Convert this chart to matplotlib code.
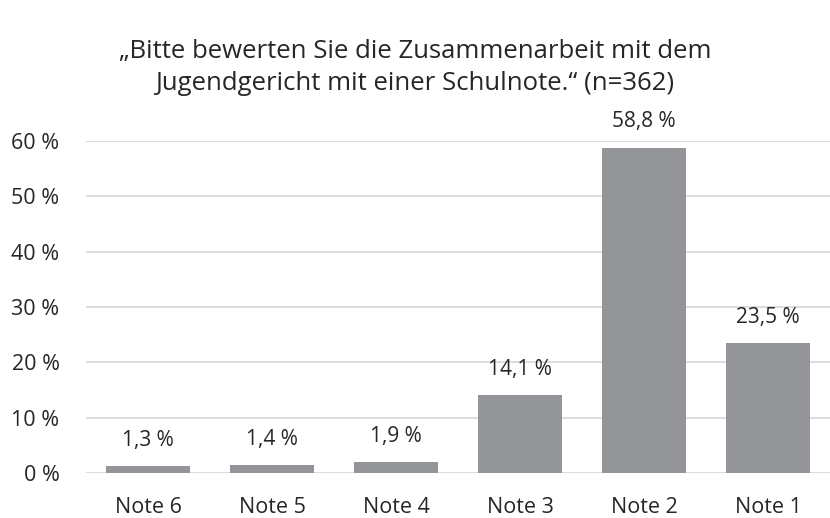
import matplotlib.pyplot as plt
from matplotlib.ticker import FuncFormatter

plt.rcParams['font.family'] = ['Open Sans', 'DejaVu Sans']

categories = ["Note 6", "Note 5", "Note 4", "Note 3", "Note 2", "Note 1"]
values = [1.3, 1.4, 1.9, 14.1, 58.8, 23.5]
yticks = [0, 10, 20, 30, 40, 50, 60]

text_color = '#262626'
bar_color = '#939598'

fig = plt.figure(figsize=(8.3, 5.18), dpi=100)
ax = fig.add_axes([0.1036, 0.0869, 0.8964, 0.6409])

x = range(len(categories))
bars = ax.bar(x, values, width=0.67, color=bar_color, zorder=2)

for xi, v in zip(x, values):
    ax.annotate("{:.1f} %".format(v).replace('.', ','), (xi, v),
                xytext=(0, 11), textcoords='offset points',
                ha='center', va='bottom', fontsize=15, color=text_color)

ax.set_ylim(0, 60)
ax.set_xlim(-0.5, len(categories) - 0.5)
ax.set_yticks(yticks)
ax.yaxis.set_major_formatter(FuncFormatter(lambda v, p: "{:d} %".format(int(v))))
ax.set_xticks(list(x))
ax.set_xticklabels(categories)
ax.grid(axis='y', color='#d9d9d9', linewidth=1.3, zorder=0)
ax.tick_params(axis='both', length=0, labelsize=15.5, colors=text_color)
ax.tick_params(axis='y', pad=19)
ax.tick_params(axis='x', pad=17)
for s in ax.spines.values():
    s.set_visible(False)

fig.text(0.5, 0.87, "„Bitte bewerten Sie die Zusammenarbeit mit dem\nJugendgericht mit einer Schulnote.“ (n=362)",
         ha='center', va='center', fontsize=18.5, color=text_color, linespacing=1.35)

fig.savefig("out.png", dpi=100)
